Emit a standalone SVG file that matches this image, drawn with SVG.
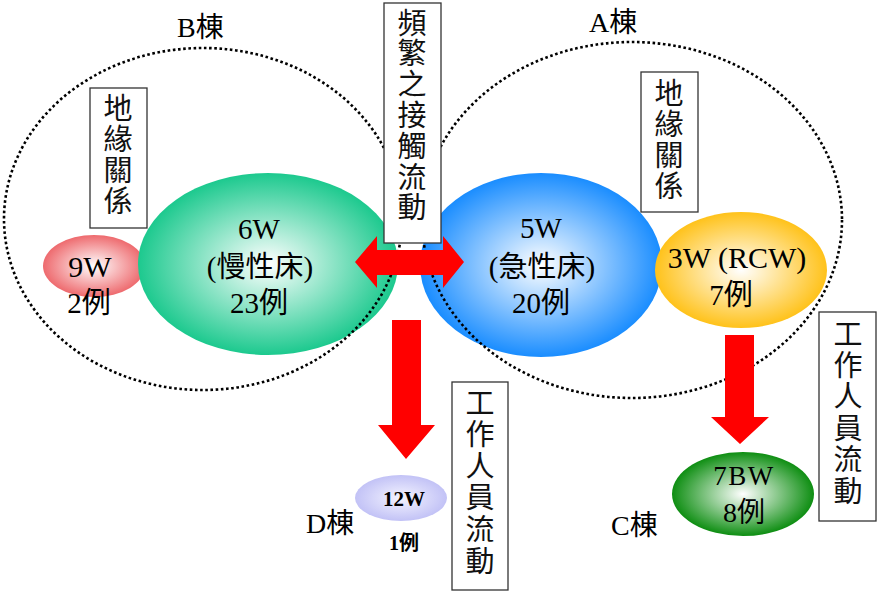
<svg xmlns="http://www.w3.org/2000/svg" width="877" height="593" viewBox="0 0 877 593">
<style>
.lat{font-family:"Liberation Serif","Noto Sans CJK TC",serif;fill:#000}
.cjk{font-family:"Noto Sans CJK TC","Noto Sans CJK SC",sans-serif;fill:#111;font-size:29px;writing-mode:vertical-rl;text-orientation:upright}
.box{fill:#fff;stroke:#333;stroke-width:1.3}
.dot{fill:none;stroke:#000;stroke-width:2.6;stroke-dasharray:2.6 2.6}
.arrow{fill:#ff0000}
.c{text-anchor:middle}
</style>
<defs>
<radialGradient id="gPink" cx="50%" cy="50%" r="50%"><stop offset="0" stop-color="#fff"/><stop offset="1" stop-color="#ee6a6e"/></radialGradient>
<radialGradient id="gTeal" cx="50%" cy="50%" r="50%"><stop offset="0" stop-color="#fff"/><stop offset="1" stop-color="#1cc98e"/></radialGradient>
<radialGradient id="gBlue" cx="50%" cy="50%" r="50%"><stop offset="0" stop-color="#fff"/><stop offset="1" stop-color="#1a8dff"/></radialGradient>
<radialGradient id="gGold" cx="50%" cy="50%" r="50%"><stop offset="0" stop-color="#fff"/><stop offset="1" stop-color="#ffc21a"/></radialGradient>
<radialGradient id="gGreen" cx="50%" cy="50%" r="50%"><stop offset="0" stop-color="#fff"/><stop offset="1" stop-color="#0e8e12"/></radialGradient>
<radialGradient id="gLav" cx="50%" cy="50%" r="50%"><stop offset="0" stop-color="#f4f4ff"/><stop offset="1" stop-color="#c2c2f6"/></radialGradient>
</defs>
<rect width="877" height="593" fill="#fff"/>

<g id="wardB-9W">
<ellipse cx="94" cy="266" rx="51" ry="31" fill="url(#gPink)"/>
<text class="lat c" x="90" y="277" font-size="30">9W</text>
<text class="lat c" x="89" y="313" font-size="29">2例</text>
</g>
<g id="wardB-6W">
<ellipse cx="268" cy="264" rx="130" ry="91" fill="url(#gTeal)"/>
<text class="lat c" x="259" y="239" font-size="29">6W</text>
<text class="lat c" x="260" y="277" font-size="29">(慢性床)</text>
<text class="lat c" x="259" y="313" font-size="29">23例</text>
</g>
<g id="wardA-5W">
<ellipse cx="541" cy="265" rx="121" ry="92" fill="url(#gBlue)"/>
<text class="lat c" x="541" y="238" font-size="29">5W</text>
<text class="lat c" x="542" y="277" font-size="29">(急性床)</text>
<text class="lat c" x="541" y="313" font-size="29">20例</text>
</g>
<g id="wardA-3W">
<ellipse cx="741" cy="270" rx="86" ry="58" fill="url(#gGold)"/>
<text class="lat c" x="737" y="268" font-size="30">3W (RCW)</text>
<text class="lat c" x="731" y="305" font-size="29">7例</text>
</g>

<g id="buildingB">
<ellipse class="dot" cx="203" cy="219" rx="199" ry="171"/>
<text class="lat" x="177" y="37" font-size="28">B棟</text>
</g>
<g id="buildingA">
<ellipse class="dot" cx="632" cy="220" rx="210" ry="178"/>
<text class="lat" x="589" y="32" font-size="28">A棟</text>
</g>

<g id="connectors">
<polygon class="arrow" points="355,262 377,236 377,250 443,250 443,236 464,262 443,288 443,275 377,275 377,288"/>
<polygon class="arrow" points="392,320 421,320 421,425 435,425 406,459 378,425 392,425"/>
<polygon class="arrow" points="725,335 754,335 754,417 769,417 740,444 711,417 725,417"/>
</g>

<g id="label-contact">
<rect class="box" x="384" y="3" width="57" height="240"/>
<text class="cjk" x="412" y="8" letter-spacing="1.8">頻繁之接觸流動</text>
</g>
<g id="label-geoB">
<rect class="box" x="90" y="88" width="57" height="140"/>
<text class="cjk" x="118" y="93" letter-spacing="2">地緣關係</text>
</g>
<g id="label-geoA">
<rect class="box" x="641" y="72" width="57" height="140"/>
<text class="cjk" x="669" y="78" letter-spacing="2">地緣關係</text>
</g>

<g id="wardD-12W">
<ellipse cx="401" cy="498" rx="46" ry="23" fill="url(#gLav)"/>
<text class="lat c" x="404" y="506" font-size="21" font-weight="bold">12W</text>
<text class="lat c" x="404" y="550" font-size="20" font-weight="bold">1例</text>
<text class="lat" x="306" y="533" font-size="28">D棟</text>
</g>
<g id="label-staffD">
<rect class="box" x="452" y="382" width="56" height="208"/>
<text class="cjk" x="480" y="388" letter-spacing="2.6">工作人員流動</text>
</g>

<g id="wardC-7BW">
<ellipse cx="743" cy="494" rx="71" ry="42" fill="url(#gGreen)"/>
<text class="lat c" x="744" y="485" font-size="27" letter-spacing="1.5">7BW</text>
<text class="lat c" x="744" y="522" font-size="28">8例</text>
<text class="lat" x="611" y="535" font-size="28">C棟</text>
</g>
<g id="label-staffC">
<rect class="box" x="819" y="312" width="57" height="209"/>
<text class="cjk" x="848" y="319" letter-spacing="2.4">工作人員流動</text>
</g>
</svg>
